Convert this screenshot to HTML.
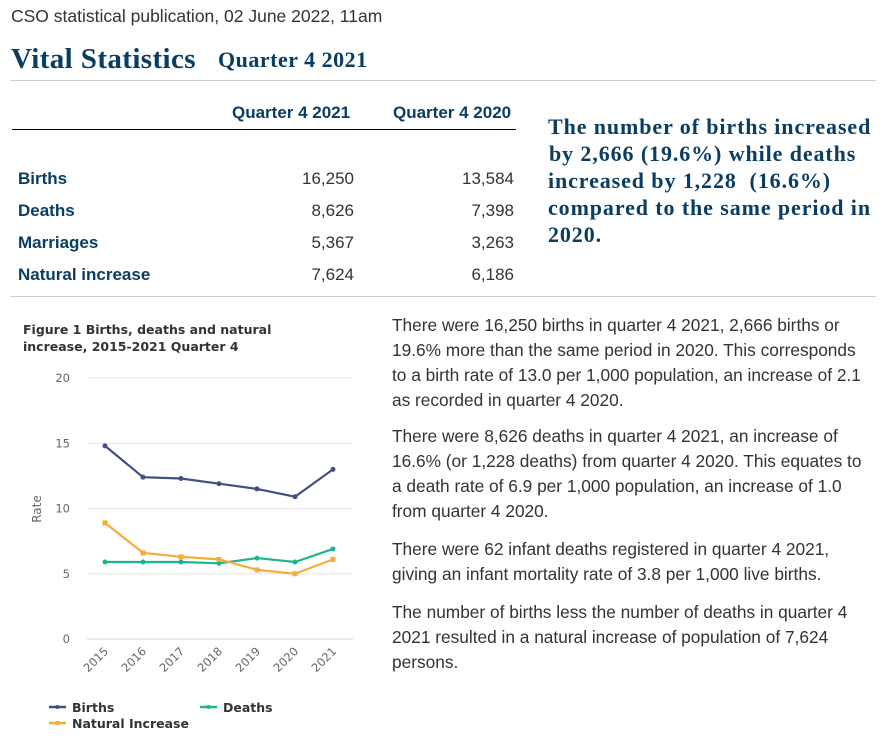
<!DOCTYPE html>
<html><head><meta charset="utf-8"><style>
body{margin:0;width:889px;height:738px;background:#fff;position:relative;overflow:hidden;font-family:"Liberation Sans",sans-serif;}
.a{position:absolute;white-space:nowrap;}
.blue{color:#0a3d62;}
.serif{font-family:"Liberation Serif",serif;font-weight:bold;}
.th{font-weight:bold;font-size:17px;color:#0a3d62;}
.rl{font-weight:bold;font-size:17px;color:#0a3d62;left:18px;}
.v{font-size:17px;color:#333;text-align:right;width:120px;}
.p{font-size:17.3px;color:#333;left:392px;line-height:25px;}
.hl{font-size:22px;color:#0a3d62;left:548px;letter-spacing:0.9px;}
</style></head><body>
<div class="a" style="left:11px;top:6px;font-size:17.5px;color:#333">CSO statistical publication, 02 June 2022, 11am</div>
<div class="a serif blue" style="left:11px;top:43px;font-size:29px;letter-spacing:0.4px">Vital Statistics</div>
<div class="a serif blue" style="left:218px;top:47px;font-size:22px;letter-spacing:0.5px">Quarter 4 2021</div>
<div class="a" style="left:11px;top:80px;width:865px;height:1px;background:#ccc"></div>
<div class="a th" style="left:232px;top:103px">Quarter 4 2021</div>
<div class="a th" style="left:393px;top:103px">Quarter 4 2020</div>
<div class="a" style="left:12px;top:129px;width:504px;height:1px;background:#000"></div>
<div class="a rl" style="top:169px">Births</div>
<div class="a rl" style="top:201px">Deaths</div>
<div class="a rl" style="top:233px">Marriages</div>
<div class="a rl" style="top:265px">Natural increase</div>
<div class="a v" style="left:234px;top:169px">16,250</div>
<div class="a v" style="left:394px;top:169px">13,584</div>
<div class="a v" style="left:234px;top:201px">8,626</div>
<div class="a v" style="left:394px;top:201px">7,398</div>
<div class="a v" style="left:234px;top:233px">5,367</div>
<div class="a v" style="left:394px;top:233px">3,263</div>
<div class="a v" style="left:234px;top:265px">7,624</div>
<div class="a v" style="left:394px;top:265px">6,186</div>
<div>
<div class="a serif hl" style="top:114px">The number of births increased</div>
<div class="a serif hl" style="top:141px;left:549px">by 2,666 (19.6%) while deaths</div>
<div class="a serif hl" style="top:168px">increased by 1,228 &nbsp;(16.6%)</div>
<div class="a serif hl" style="top:195px">compared to the same period in</div>
<div class="a serif hl" style="top:222px">2020.</div>
</div>
<div class="a" style="left:11px;top:296px;width:865px;height:1px;background:#ccc"></div>
<div>
<div class="a p" style="top:313px">There were 16,250 births in quarter 4 2021, 2,666 births or</div>
<div class="a p" style="top:338px">19.6% more than the same period in 2020. This corresponds</div>
<div class="a p" style="top:363px">to a birth rate of 13.0 per 1,000 population, an increase of 2.1</div>
<div class="a p" style="top:388px">as recorded in quarter 4 2020.</div></div>
<div>
<div class="a p" style="top:424px">There were 8,626 deaths in quarter 4 2021, an increase of</div>
<div class="a p" style="top:449px">16.6% (or 1,228 deaths) from quarter 4 2020. This equates to</div>
<div class="a p" style="top:474px">a death rate of 6.9 per 1,000 population, an increase of 1.0</div>
<div class="a p" style="top:499px">from quarter 4 2020.</div></div>
<div>
<div class="a p" style="top:537px">There were 62 infant deaths registered in quarter 4 2021,</div>
<div class="a p" style="top:562px">giving an infant mortality rate of 3.8 per 1,000 live births.</div></div>
<div>
<div class="a p" style="top:600px">The number of births less the number of deaths in quarter 4</div>
<div class="a p" style="top:625px">2021 resulted in a natural increase of population of 7,624</div>
<div class="a p" style="top:650px">persons.</div></div>
<svg class="a" style="left:0;top:0" width="389" height="738">
<text x="23" y="334" font-family="DejaVu Sans" font-weight="bold" font-size="12.5" fill="#333">Figure 1 Births, deaths and natural</text>
<text x="23" y="351" font-family="DejaVu Sans" font-weight="bold" font-size="12.5" fill="#333">increase, 2015-2021 Quarter 4</text>
<text x="41" y="509" transform="rotate(-90 41 509)" text-anchor="middle" font-family="DejaVu Sans" font-size="12" fill="#666">Rate</text>
<g id="grid"></g><g id="series"></g><g id="xl"></g>
<g font-family="DejaVu Sans" font-weight="bold" font-size="12.5" fill="#333">
<g><line x1="49" y1="707" x2="66" y2="707" stroke="#434f80" stroke-width="2.5"/><circle cx="57.5" cy="707" r="2" fill="#434f80"/><text x="72" y="712">Births</text></g>
<g><line x1="200" y1="707" x2="217" y2="707" stroke="#1db490" stroke-width="2.5"/><circle cx="208.5" cy="707" r="2" fill="#1db490"/><text x="223" y="712">Deaths</text></g>
<g><line x1="49" y1="723" x2="66" y2="723" stroke="#f8ac36" stroke-width="2.5"/><rect x="55.5" y="721" width="4" height="4" fill="#f8ac36"/><text x="72" y="728">Natural Increase</text></g>
</g>
</svg>
<script>
const years=["2015","2016","2017","2018","2019","2020","2021"];
const births=[14.8,12.4,12.3,11.9,11.5,10.9,13.0];
const deaths=[5.9,5.9,5.9,5.8,6.2,5.9,6.9];
const naturalIncrease=[8.9,6.6,6.3,6.1,5.3,5.0,6.1];
const yTicks=[0,5,10,15,20];
const NS="http://www.w3.org/2000/svg";
const xS=i=>105+i*38, yS=v=>639-v*13.05;
function mk(t,a){const e=document.createElementNS(NS,t);for(const k in a)e.setAttribute(k,a[k]);return e;}
const grid=document.getElementById('grid');
yTicks.forEach(t=>{
 const l=mk('line',{x1:87,x2:353,y1:yS(t),y2:yS(t),stroke:t===0?'#ccd6eb':'#e6e6e6','stroke-width':1});
 
 
 grid.appendChild(l);
 const tx=mk('text',{x:70,y:yS(t)+4,'text-anchor':'end','font-family':'DejaVu Sans','font-size':11.5,fill:'#666'});
 tx.textContent=t;
 
 
 grid.appendChild(tx);
});
const xl=document.getElementById('xl');
years.forEach((y,i)=>{
 const x=xS(i)+4,yy=652;
 const tx=mk('text',{x:x,y:yy,'text-anchor':'end','font-family':'DejaVu Sans','font-size':11.5,fill:'#666',transform:`rotate(-45 ${x} ${yy})`});
 tx.textContent=y;
 
 
 xl.appendChild(tx);
});
const sg=document.getElementById('series');
[[births,'#434f80','births','c'],[deaths,'#1db490','deaths','c'],[naturalIncrease,'#f8ac36','natural-increase','s']].forEach(([d,c,n,m])=>{
 const p=mk('polyline',{points:d.map((v,i)=>xS(i)+','+yS(v)).join(' '),fill:'none',stroke:c,'stroke-width':2.2});
 
 
 sg.appendChild(p);
 d.forEach((v,i)=>{
  const pt=m==='c'?mk('circle',{cx:xS(i),cy:yS(v),r:2.5,fill:c}):mk('rect',{x:xS(i)-2.5,y:yS(v)-2.5,width:5,height:5,fill:c});
  
  
  sg.appendChild(pt);
 });
});
</script>
</body></html>
